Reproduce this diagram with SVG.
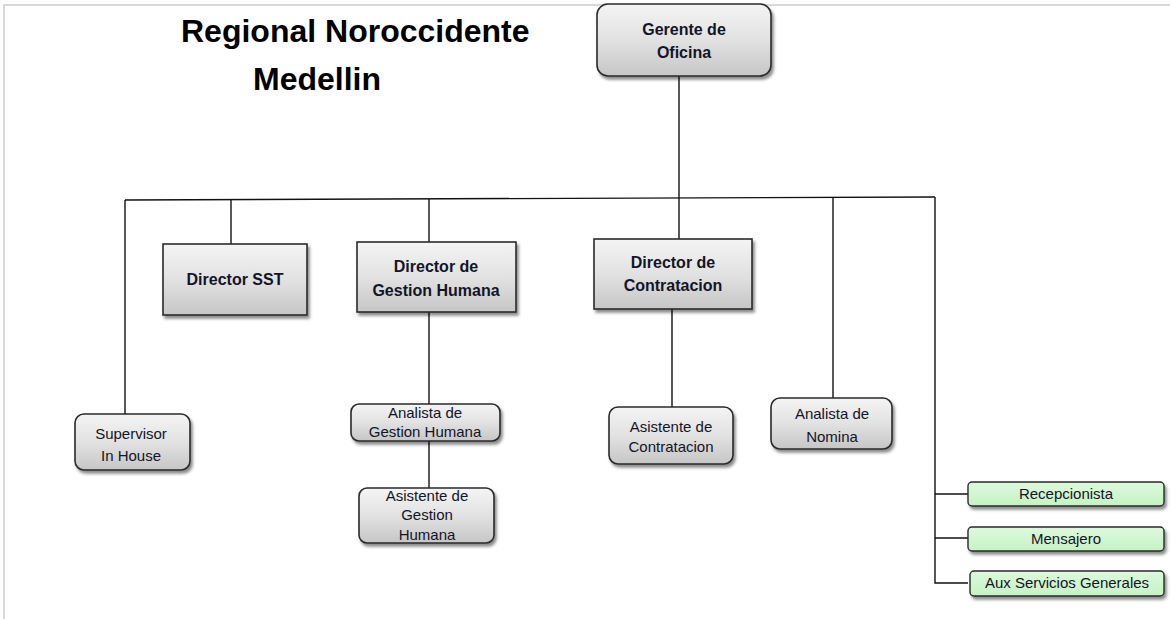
<svg xmlns="http://www.w3.org/2000/svg" width="1170" height="619" viewBox="0 0 1170 619">
  <defs>
    <linearGradient id="grayFill" x1="0" y1="0" x2="0" y2="1">
      <stop offset="0" stop-color="#f4f4f4"/>
      <stop offset="0.5" stop-color="#e2e2e2"/>
      <stop offset="1" stop-color="#c6c6c6"/>
    </linearGradient>
    <linearGradient id="greenFill" x1="0" y1="0" x2="0" y2="1">
      <stop offset="0" stop-color="#dcfadc"/>
      <stop offset="1" stop-color="#c6f2c4"/>
    </linearGradient>
    <filter id="shadow" x="-10%" y="-10%" width="130%" height="140%">
      <feDropShadow dx="2" dy="3" stdDeviation="1.6" flood-color="#000" flood-opacity="0.45"/>
    </filter>
  </defs>
  <style>
    .frame { stroke: #d9d9d9; stroke-width: 2; fill: none; }
    .link { stroke: #111; stroke-width: 1.4; fill: none; }
    .box { fill: url(#grayFill); stroke: #2a2a2a; stroke-width: 1.6; filter: url(#shadow); }
    .gbox { fill: url(#greenFill); stroke: #2a2a2a; stroke-width: 1.4; filter: url(#shadow); }
    text { font-family: "Liberation Sans", Arial, sans-serif; fill: #141428; text-anchor: middle; }
    .title { font-size: 32px; font-weight: bold; fill: #000; text-anchor: start; }
    .head { font-size: 16px; font-weight: bold; }
    .small { font-size: 15px; }
  </style>

  <rect width="1170" height="619" fill="#fff"/>
  <!-- page border -->
  <path class="frame" d="M4 619 V5 H1170"/>

  <!-- heading -->
  <text class="title" x="181" y="42">Regional Noroccidente</text>
  <text class="title" x="253" y="90">Medellin</text>

  <!-- connectors -->
  <g id="connectors">
    <path class="link" d="M679 76 V240"/>
    <path class="link" d="M125 200 L935 197"/>
    <path class="link" d="M125 200 V414"/>
    <path class="link" d="M231 200 V244"/>
    <path class="link" d="M429 199 V242"/>
    <path class="link" d="M833 197 V398"/>
    <path class="link" d="M935 197 V583 H968"/>
    <path class="link" d="M935 494 H968"/>
    <path class="link" d="M935 538 H968"/>
    <path class="link" d="M429 312 V404"/>
    <path class="link" d="M429 441 V488"/>
    <path class="link" d="M672 309 V407"/>
  </g>

  <g id="gerente">
    <rect class="box" x="597" y="4" width="174" height="72" rx="11"/>
    <text class="head" x="684" y="35">Gerente de</text>
    <text class="head" x="684" y="58">Oficina</text>
  </g>

  <g id="director-sst">
    <rect class="box" x="163" y="244" width="144" height="71"/>
    <text class="head" x="235" y="285">Director SST</text>
  </g>

  <g id="director-gestion-humana">
    <rect class="box" x="357" y="242" width="159" height="70"/>
    <text class="head" x="436" y="272">Director de</text>
    <text class="head" x="436" y="296">Gestion Humana</text>
  </g>

  <g id="director-contratacion">
    <rect class="box" x="594" y="239" width="158" height="70"/>
    <text class="head" x="673" y="268">Director de</text>
    <text class="head" x="673" y="291">Contratacion</text>
  </g>

  <g id="supervisor">
    <rect class="box" x="75" y="414" width="115" height="56" rx="9"/>
    <text class="small" x="131" y="439">Supervisor</text>
    <text class="small" x="131" y="461">In House</text>
  </g>

  <g id="analista-gestion-humana">
    <rect class="box" x="351" y="404" width="149" height="37" rx="8"/>
    <text class="small" x="425" y="418">Analista de</text>
    <text class="small" x="425" y="437">Gestion Humana</text>
  </g>

  <g id="asistente-gestion-humana">
    <rect class="box" x="359" y="488" width="135" height="55" rx="8"/>
    <text class="small" x="427" y="501">Asistente de</text>
    <text class="small" x="427" y="520">Gestion</text>
    <text class="small" x="427" y="540">Humana</text>
  </g>

  <g id="asistente-contratacion">
    <rect class="box" x="609" y="407" width="124" height="57" rx="9"/>
    <text class="small" x="671" y="432">Asistente de</text>
    <text class="small" x="671" y="452">Contratacion</text>
  </g>

  <g id="analista-nomina">
    <rect class="box" x="771" y="398" width="121" height="51" rx="9"/>
    <text class="small" x="832" y="419">Analista de</text>
    <text class="small" x="832" y="442">Nomina</text>
  </g>

  <g id="recepcionista">
    <rect class="gbox" x="968" y="482" width="196" height="24" rx="4"/>
    <text class="small" x="1066" y="499">Recepcionista</text>
  </g>

  <g id="mensajero">
    <rect class="gbox" x="968" y="527" width="196" height="24" rx="4"/>
    <text class="small" x="1066" y="544">Mensajero</text>
  </g>

  <g id="aux-servicios-generales">
    <rect class="gbox" x="970" y="571" width="194" height="25" rx="4"/>
    <text class="small" x="1067" y="588">Aux Servicios Generales</text>
  </g>
</svg>
